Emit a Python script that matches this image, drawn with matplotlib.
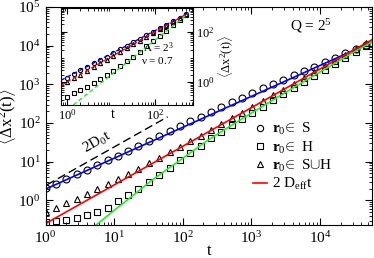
import matplotlib
matplotlib.use("Agg")
import matplotlib.pyplot as plt

plt.rcParams['font.family'] = 'Liberation Serif'
plt.rcParams['mathtext.fontset'] = 'custom'
plt.rcParams['mathtext.rm'] = 'Liberation Serif'
plt.rcParams['mathtext.it'] = 'Liberation Serif'
plt.rcParams['mathtext.bf'] = 'Liberation Serif:bold'

# main panel, Q = 2^5
t_pts = [1, 1.41, 2, 2.83, 4, 5.66, 8, 11.3, 16, 22.6, 32, 45.3, 64, 90.5, 128,
         181, 256, 362, 512, 724, 1024, 1448, 2048, 2896, 4096, 5793, 8192,
         11585, 16384, 23170, 32768, 46341]
msd_S = [2.05, 2.7, 3.56, 4.7, 6.2, 8.2, 10.8, 14.4, 19.3, 25.7, 34.3, 46,
         61.5, 82.5, 110, 147, 196, 260, 344, 454, 599, 780, 1020, 1320, 1700,
         2200, 2860, 3720, 4860, 6300, 8200, 10600]
msd_H = [0.28, 0.29, 0.31, 0.35, 0.41, 0.5, 0.65, 0.95, 1.4, 2.0, 3.0, 4.6,
         7.0, 11, 16.5, 25.5, 40, 60, 87, 127, 185, 265, 385, 560, 800, 1150,
         1660, 2400, 3400, 4900, 7000, 10000]
msd_SH = [0.5, 0.64, 0.83, 1.09, 1.44, 1.92, 2.58, 3.49, 4.76, 6.52, 9.0,
          12.45, 17.3, 24.1, 33.7, 47.3, 66.3, 92.5, 131, 184, 259, 366, 517,
          729, 1029, 1453, 2053, 2900, 4100, 5800, 8200, 11600]

fit_S_t = [1, 57000]
fit_S = [1.95, 12400]
deff_t = [1, 57000]
deff = [0.25, 14250]
fit_H_t = [5.3, 10, 20, 33.4, 64, 100, 236, 500, 1000, 3000, 10000, 30000, 57000]
fit_H = [0.22, 0.55, 1.45, 3.06, 7.0, 12.3, 36.6, 85, 180, 590, 2100, 6600, 12600]
d0_t = [1.05, 60]
d0 = [2.52, 144]

# inset, A = 2^3
ti_pts = [1, 1.41, 2, 2.83, 4, 5.66, 8, 11.3, 16, 22.6, 32, 45.3, 64, 90.5,
          128, 181, 256, 362, 512]
ins_S = [1.55, 2.14, 2.95, 4.06, 5.6, 7.7, 10.6, 14.6, 20.2, 27.8, 38.3, 52.8,
         72.7, 100, 138, 190, 262, 361, 498]
ins_H = [0.27, 0.36, 0.48, 0.65, 0.9, 1.3, 1.9, 2.9, 4.5, 6.8, 10.5, 16.6,
         26.8, 43, 70, 114, 185, 300, 487]
ins_SH = [1.03, 1.43, 2.0, 2.85, 4.0, 5.7, 8.0, 11.3, 16, 22.6, 32, 45, 64,
          90, 128, 181, 256, 362, 512]
ins_fS_t = [0.73, 571]
ins_fS = [1.2, 571]
ins_fSH_t = [0.73, 571]
ins_fSH = [0.76, 570]
ins_fH_t = [1.39, 571]
ins_fH = [0.125, 540]

green = '#22ee22'

fig = plt.figure(figsize=(3.74, 2.58), dpi=100)
ax = fig.add_axes([0.1217, 0.1279, 0.873, 0.845])

ax.plot(t_pts, msd_S, 'o', ms=5, mfc='none', mec='k', mew=0.8)
ax.plot(t_pts, msd_H, 's', ms=4.3, mfc='none', mec='k', mew=0.8)
ax.plot(t_pts, msd_SH, '^', ms=5, mfc='none', mec='k', mew=0.8)
ax.plot(fit_S_t, fit_S, '-', color='blue', lw=1.2)
ax.plot(fit_H_t, fit_H, '-', color=green, lw=1.2)
ax.plot(deff_t, deff, '-', color='red', lw=1.2)
ax.plot(d0_t, d0, '--', color='k', lw=1.0, dashes=(6, 3))

ax.set_xscale('log')
ax.set_yscale('log')
ax.set_xlim(1, 5.7e4)
ax.set_ylim(0.23, 1e5)
ax.set_xticks([1, 10, 100, 1000, 10000])
ax.set_yticks([1, 10, 100, 1000, 10000, 100000])
ax.tick_params(which='both', direction='in', top=True, right=True, labelsize=11)
ax.tick_params(which='major', length=5)
ax.tick_params(which='minor', length=2.5)
ax.set_xlabel('t', fontsize=12, labelpad=-2)
ax.set_ylabel(r'$\langle\Delta\mathrm{x}^2(\mathrm{t})\rangle$', fontsize=12, labelpad=0)
ax.text(311, 232, r'Q = 2$^5$', transform=None, fontsize=11, ha='center', va='center')
ax.text(97, 116, r'2D$_0$t', fontsize=11, rotation=30, ha='center', va='center',
        transform=None)

leg_txt = [r'$\mathbf{r}_0\!\in$ S', r'$\mathbf{r}_0\!\in$ H',
           r'$\mathbf{r}_0\!\in$ S$\cup$H', r'2 D$_{\mathrm{eff}}$t']
ax.legend(handles=[
    plt.Line2D([], [], ls='none', marker='o', ms=4.5, mfc='none', mec='k', mew=0.8),
    plt.Line2D([], [], ls='none', marker='s', ms=4, mfc='none', mec='k', mew=0.8),
    plt.Line2D([], [], ls='none', marker='^', ms=4.5, mfc='none', mec='k', mew=0.8),
    plt.Line2D([], [], color='red', lw=1.2)],
    labels=leg_txt, loc='upper left', bbox_to_anchor=(0.6355, 0.477),
    frameon=False, fontsize=11, borderpad=0, borderaxespad=0,
    handlelength=0.9, handletextpad=0.35, labelspacing=0.15)

ins = fig.add_axes([0.1631, 0.593, 0.353, 0.376])
ins.plot(ti_pts, ins_S, 'o', ms=3, mfc='none', mec='k', mew=0.8)
ins.plot(ti_pts, ins_H, 's', ms=2.6, mfc='none', mec='k', mew=0.8)
ins.plot(ti_pts, ins_SH, '^', ms=3, mfc='none', mec='k', mew=0.8)
ins.plot(ins_fS_t, ins_fS, '--', color='blue', lw=1.0, dashes=(3, 2))
ins.plot(ins_fSH_t, ins_fSH, '--', color='red', lw=1.0, dashes=(3, 2))
ins.plot(ins_fH_t, ins_fH, '--', color=green, lw=1.0, dashes=(3, 2))
ins.set_xscale('log')
ins.set_yscale('log')
ins.set_xlim(0.73, 730)
ins.set_ylim(0.125, 900)
ins.set_xticks([1, 100])
ins.set_yticks([1, 100])
ins.yaxis.tick_right()
ins.yaxis.set_label_position('right')
ins.tick_params(which='both', direction='in', top=True, left=True, right=True,
                labelsize=9, pad=2)
ins.tick_params(which='major', length=4)
ins.tick_params(which='minor', length=2)
ins.set_xlabel('t', fontsize=10)
ins.xaxis.set_label_coords(0.394, -0.03)
ins.set_ylabel(r'$\langle\Delta\mathrm{x}^2(\mathrm{t})\rangle$', fontsize=9, labelpad=2)
ins.text(159, 210, r'A = 2$^3$', transform=None, fontsize=8, ha='center', va='center')
ins.text(157, 197, r'$\nu$ = 0.7', transform=None, fontsize=8, ha='center', va='center')

fig.savefig('out.png', dpi=100)
